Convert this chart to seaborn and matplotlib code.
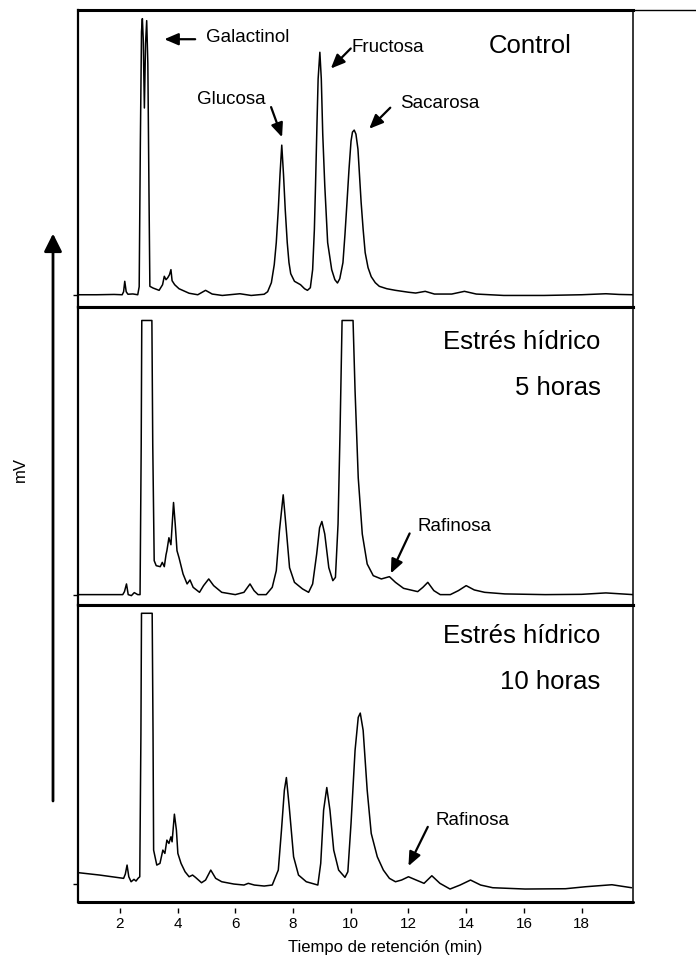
import matplotlib
matplotlib.use("Agg")
import matplotlib.pyplot as plt
import pandas as pd
import seaborn as sns

# HPLC traces: retention time (min) and detector signal (arbitrary mV units)
control_t = [0.55, 1.2, 1.8, 2.08, 2.13, 2.17, 2.22, 2.28, 2.45, 2.62, 2.67, 2.71, 2.75, 2.78,
             2.81, 2.85, 2.89, 2.93, 2.97, 3.01, 3.04, 3.15, 3.36, 3.48, 3.54, 3.60, 3.66,
             3.72, 3.77, 3.81, 3.90, 4.05, 4.40, 4.70, 4.97, 5.20, 5.55, 6.16, 6.55, 7.0,
             7.12, 7.25, 7.35, 7.42, 7.49, 7.55, 7.61, 7.67, 7.73, 7.80, 7.86, 7.92, 8.05,
             8.26, 8.40, 8.50, 8.60, 8.68, 8.74, 8.78, 8.83, 8.87, 8.93, 8.98, 9.03, 9.10,
             9.20, 9.34, 9.45, 9.54, 9.62, 9.73, 9.80, 9.87, 9.94, 10.01, 10.06, 10.12,
             10.18, 10.25, 10.36, 10.43, 10.50, 10.60, 10.71, 10.85, 10.99, 11.25, 11.55,
             12.0, 12.25, 12.58, 12.9, 13.5, 13.94, 14.35, 15.3, 16.7, 18.0, 18.84, 19.3, 19.78]
control_mv = [0, 0, 0.3, 0, 3, 13.4, 3, 0.5, 0.8, 0, 8, 150, 262, 275,
              255, 186, 250, 273, 230, 100, 8.4, 6.7, 4.4, 10, 18.4, 15, 17,
              20, 25, 14, 10, 6, 1.5, 0, 4.4, 0.7, -0.7, 1, -0.7, 0.5,
              3, 12, 30, 52, 85, 120, 149, 120, 85, 52, 32, 21, 13.4,
              10, 6, 4.4, 7, 25, 65, 109, 170, 215, 241.5, 215, 160, 109,
              52, 25, 15, 11.7, 16, 32, 60, 92, 125, 153, 162, 164,
              160, 145, 92, 65, 42, 27, 18, 12, 8.4, 6, 4.4,
              2.5, 1.7, 3.4, 0.7, 0.7, 3.4, 0.7, -0.7, -0.7, 0, 1, 0.3, 0]

stress5_t = [0.55, 1.5, 2.10, 2.16, 2.23, 2.29, 2.40, 2.50, 2.62, 2.70, 2.74, 2.76, 3.11,
             3.14, 3.19, 3.26, 3.40, 3.47, 3.54, 3.60, 3.63, 3.70, 3.77, 3.86, 3.92, 3.98,
             4.05, 4.19, 4.33, 4.43, 4.54, 4.76, 4.90, 5.08, 5.25, 5.53, 6.0, 6.30, 6.51,
             6.65, 6.79, 7.07, 7.28, 7.42, 7.53, 7.66, 7.77, 7.88, 8.05, 8.33, 8.54, 8.68,
             8.82, 8.92, 9.0, 9.10, 9.24, 9.38, 9.47, 9.56, 9.63, 9.70, 10.08, 10.15, 10.26,
             10.40, 10.57, 10.78, 11.06, 11.34, 11.55, 11.83, 12.32, 12.50, 12.67, 12.88,
             13.10, 13.45, 13.73, 14.0, 14.28, 14.64, 15.34, 16.74, 18.0, 18.84, 19.78]
stress5_mv = [0, 0, 0, 3, 10.7, 0, -1, 2, 0, 0, 150, 274.7, 274.7,
              150, 34, 29, 28, 32.3, 28, 40, 44, 57, 50, 92.3, 70, 44,
              37, 20.7, 10.7, 14.7, 7.3, 2.3, 9, 15.7, 9, 2.3, 0, 2.3, 10.7,
              4, 0, 0, 7.3, 24, 64, 100, 64, 27, 12.3, 5.7, 2.3, 10.7,
              40.7, 67, 73.3, 60.7, 27, 14, 17.3, 70.7, 164, 274.7, 274.7, 204, 117,
              60.7, 30.7, 19, 15.7, 18, 12.3, 6.3, 3, 7.3, 12.3, 4,
              0, 0, 4, 9, 4.7, 2.3, 0.7, 0, 0.3, 1.7, 0]

stress10_t = [0.59, 1.3, 2.13, 2.19, 2.25, 2.31, 2.39, 2.49, 2.56, 2.63, 2.69, 2.73, 2.75,
              3.12, 3.15, 3.17, 3.28, 3.39, 3.49, 3.56, 3.63, 3.70, 3.77, 3.81, 3.89, 3.96,
              4.01, 4.12, 4.26, 4.40, 4.52, 4.62, 4.83, 4.97, 5.15, 5.32, 5.53, 5.95, 6.30,
              6.45, 6.66, 7.0, 7.28, 7.49, 7.60, 7.70, 7.77, 7.87, 8.02, 8.19, 8.46, 8.86,
              8.96, 9.06, 9.17, 9.28, 9.41, 9.58, 9.80, 9.90, 10.01, 10.15, 10.26, 10.33,
              10.43, 10.57, 10.71, 10.92, 11.13, 11.34, 11.55, 11.76, 12.0, 12.21, 12.54,
              12.81, 13.09, 13.44, 13.79, 14.15, 14.50, 14.92, 16.04, 17.44, 18.14, 19.05, 19.73]
stress10_mv = [11.3, 9, 5.7, 10, 19, 7.3, 2.3, 4.7, 3, 5.7, 7.3, 150, 271.3,
               271.3, 150, 34, 19, 20.7, 34, 30.7, 44, 40.7, 47.3, 42.3, 70, 54,
               30.7, 20.7, 12.3, 7.3, 9, 6.7, 1.3, 4, 14, 5.7, 2.3, 0, -1,
               0.7, -1, -2, -1, 14, 54, 94, 106.7, 77, 27.3, 9, 2.3, -1,
               20.7, 74, 96.7, 74, 34, 14, 6.7, 12.3, 60.7, 134, 167, 171.3,
               154, 94, 50.7, 27.3, 14, 5.7, 2.3, 4, 7.3, 4.7, 0.7,
               8.3, 0.7, -5, -1, 4, -1, -3.7, -5, -4.7, -2.7, -0.7, -3.7]

x_ticks = [2, 4, 6, 8, 10, 12, 14, 16, 18]
x_range = (0.55, 19.78)

sns.set_style("ticks")
plt.rcParams["font.family"] = ["Liberation Sans", "DejaVu Sans"]
plt.rcParams["text.color"] = "black"
plt.rcParams["axes.labelcolor"] = "black"
plt.rcParams["xtick.color"] = "black"
plt.rcParams["ytick.color"] = "black"
plt.rcParams["xtick.labelcolor"] = "black"

fig = plt.figure(figsize=(6.96, 9.63), dpi=100)
gs = fig.add_gridspec(3, 1, left=78 / 696, right=633 / 696,
                      top=1 - 9.8 / 963, bottom=1 - 902 / 963, hspace=0)
axes = [fig.add_subplot(gs[i]) for i in range(3)]

runs = [(control_t, control_mv, (-12.4, 283.8)),
        (stress5_t, stress5_mv, (-10, 288)),
        (stress10_t, stress10_mv, (-18, 280))]

for ax, (t, mv, ylim) in zip(axes, runs):
    df = pd.DataFrame({"t": t, "mv": mv})
    sns.lineplot(data=df, x="t", y="mv", ax=ax, color="black", lw=1.1,
                 sort=False, estimator=None)
    ax.set_xlim(*x_range)
    ax.set_ylim(*ylim)
    ax.set_xlabel("")
    ax.set_ylabel("")
    ax.set_yticks([0])
    ax.set_yticklabels([""])
    ax.tick_params(axis="y", direction="out", length=3.5, width=1, color="black")
    ax.spines["top"].set_linewidth(2.2)
    ax.spines["bottom"].set_linewidth(2.2)
    ax.spines["left"].set_linewidth(1.6)
    ax.spines["right"].set_linewidth(1.1)
    for s in ax.spines.values():
        s.set_color("black")

for ax in axes[:2]:
    ax.tick_params(axis="x", bottom=False, labelbottom=False)

# bottom axis: ticks sit slightly below the frame line
ax3 = axes[2]
ax3.spines["bottom"].set_position(("outward", 4))
ax3.spines["bottom"].set_visible(False)
ax3.axhline(ax3.get_ylim()[0], color="black", lw=2.2, clip_on=False)
ax3.set_xticks(x_ticks)
ax3.set_xticklabels([str(v) for v in x_ticks])
ax3.tick_params(axis="x", direction="out", length=3.5, width=1, pad=3,
                labelsize=11, color="black", labelcolor="black")
ax3.set_xlabel("Tiempo de retención (min)", fontsize=12, color="black")
ax3.xaxis.set_label_coords(0.553, -0.154)
ax3.xaxis.label.set_va("center")

arrow_kw = dict(arrowstyle="-|>,head_length=0.7,head_width=0.3", lw=1.6,
                color="black", shrinkA=0, shrinkB=0, mutation_scale=12)
label_fs = 13.5
title_fs = 18.5

ax1, ax2 = axes[0], axes[1]
ax1.text(4.97, 256, "Galactinol", ha="left", va="center", fontsize=label_fs)
ax1.annotate("", xy=(3.54, 254.5), xytext=(4.61, 254.5), arrowprops=arrow_kw)
ax1.text(10.04, 246.5, "Fructosa", ha="left", va="center", fontsize=label_fs)
ax1.annotate("", xy=(9.31, 225.3), xytext=(10.0, 245.3), arrowprops=arrow_kw)
ax1.text(5.85, 194, "Glucosa", ha="center", va="center", fontsize=label_fs)
ax1.annotate("", xy=(7.62, 156.9), xytext=(7.24, 186.9), arrowprops=arrow_kw)
ax1.text(11.70, 190.5, "Sacarosa", ha="left", va="center", fontsize=label_fs)
ax1.annotate("", xy=(10.64, 165.3), xytext=(11.37, 186.3), arrowprops=arrow_kw)
ax1.text(16.21, 248, "Control", ha="center", va="center", fontsize=title_fs)

ax2.text(18.66, 253.5, "Estrés hídrico", ha="right", va="center", fontsize=title_fs)
ax2.text(18.66, 207.5, "5 horas", ha="right", va="center", fontsize=title_fs)
ax2.text(12.33, 68, "Rafinosa", ha="left", va="center", fontsize=label_fs)
ax2.annotate("", xy=(11.39, 21.3), xytext=(12.04, 61.3), arrowprops=arrow_kw)

ax3.text(18.66, 248.5, "Estrés hídrico", ha="right", va="center", fontsize=title_fs)
ax3.text(18.66, 202, "10 horas", ha="right", va="center", fontsize=title_fs)
ax3.text(12.92, 63.5, "Rafinosa", ha="left", va="center", fontsize=label_fs)
ax3.annotate("", xy=(12.0, 18), xytext=(12.67, 57.3), arrowprops=arrow_kw)

# shared signal axis: label and upward arrow at the left
fig.text(20 / 696, 1 - 469 / 963, "mV", rotation=90, ha="center", va="center",
         fontsize=12)
fig.add_artist(matplotlib.patches.FancyArrowPatch(
    (53 / 696, 1 - 801 / 963), (53 / 696, 1 - 233.6 / 963),
    transform=fig.transFigure, arrowstyle="-|>,head_length=0.9,head_width=0.45",
    mutation_scale=12, lw=2, color="black", shrinkA=0, shrinkB=0))

# frame line continuing past the plot on the right
fig.add_artist(plt.Line2D([633 / 696, 1.0], [1 - 10 / 963, 1 - 10 / 963],
                          transform=fig.transFigure, color="black", lw=1))

fig.savefig("out.png", dpi=100)
